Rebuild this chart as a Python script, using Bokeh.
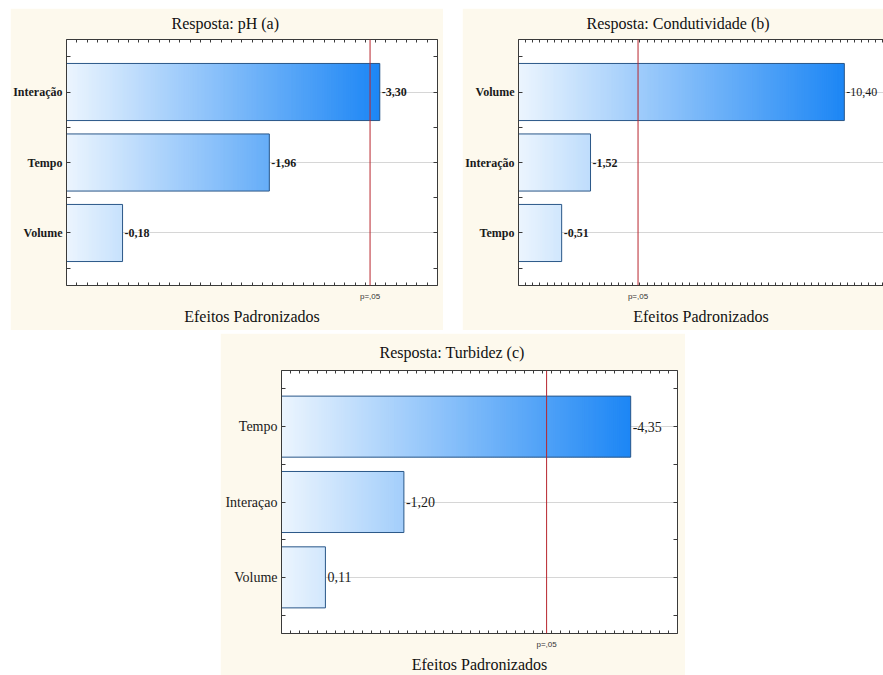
import numpy as np
from bokeh.plotting import figure
from bokeh.layouts import column, row, Spacer
from bokeh.models import (FixedTicker, CustomJSTickFormatter, LinearAxis, Span,
                          ColumnDataSource, Range1d)
from bokeh.embed import file_html
from bokeh.resources import INLINE
from bokeh.core.properties import value

# Standardized effects (Pareto charts), one set per response
ph_factors = ["Interação", "Tempo", "Volume"]
ph_effects = [-3.30, -1.96, -0.18]

cond_factors = ["Volume", "Interação", "Tempo"]
cond_effects = [-10.40, -1.52, -0.51]

turb_factors = ["Tempo", "Interaçao", "Volume"]
turb_effects = [-4.35, -1.20, 0.11]

titles = ["Resposta: pH (a)", "Resposta: Condutividade (b)", "Resposta: Turbidez (c)"]
x_title = "Efeitos Padronizados"
p_crit = 3.182          # t(0.025; 3 g.l.)
p_label = "p=,05"

SERIF = "'Liberation Serif'"
SANS = "'Liberation Sans'"
CREAM = "#fdf9ed"
LIGHT = np.array([236, 245, 254])
DARK = np.array([28, 134, 245])


def hexcol(c):
    return "#%02x%02x%02x" % tuple(int(round(v)) for v in c)


def pareto(title, factors, effects, x_start, x_end, step, width, height,
           borders, title_offset, title_standoff, right_axis, cat_style,
           cat_size, val_styles, val_size):
    left_b, right_b, top_b, bottom_b = borders
    p = figure(width=width, height=height, output_backend="svg",
               toolbar_location=None,
               x_range=Range1d(x_start, x_end), y_range=Range1d(0.255, 3.745),
               min_border_left=left_b, min_border_right=right_b,
               min_border_top=top_b, min_border_bottom=bottom_b,
               background_fill_color="white", border_fill_color=CREAM,
               outline_line_color=None)

    n = len(factors)
    ys = [n - i for i in range(n)]
    mags = [abs(e) for e in effects]
    texts = [("%.2f" % e).replace(".", ",") for e in effects]
    vmax = max(mags)

    # horizontal guide lines at each factor
    p.xgrid.visible = False
    p.ygrid.ticker = FixedTicker(ticks=ys)
    p.ygrid.grid_line_color = "#d6d6d6"
    p.ygrid.grid_line_width = 1

    # gradient-filled bars: thin slices from the axis start to each effect
    h = 0.81
    edges = np.linspace(x_start, vmax, 181)
    dw = edges[1] - edges[0]
    L, R, B, T, C = [], [], [], [], []
    for m, y in zip(mags, ys):
        for a in edges[:-1]:
            if a >= m:
                break
            frac = (a + dw / 2 - x_start) / (vmax - x_start)
            L.append(a)
            R.append(min(a + 1.8 * dw, m))
            B.append(y - h / 2)
            T.append(y + h / 2)
            C.append(hexcol(LIGHT + (DARK - LIGHT) * frac))
    p.quad(left=L, right=R, bottom=B, top=T, fill_color=C, line_color=None)

    bars = ColumnDataSource(dict(left=[x_start] * n, right=mags,
                                 bottom=[y - h / 2 for y in ys],
                                 top=[y + h / 2 for y in ys],
                                 y=ys, txt=texts, st=val_styles))
    p.quad(left="left", right="right", bottom="bottom", top="top", source=bars,
           fill_color=None, line_color="#2a5788", line_width=1)
    p.text(x="right", y="y", text="txt", source=bars, x_offset=2,
           text_align="left", text_baseline="middle",
           text_font=value(SERIF), text_font_size=val_size,
           text_font_style="st", text_color="#1a1a1a")

    p.add_layout(Span(location=p_crit, dimension="height",
                      line_color="#b8262e", line_width=1))

    # tick marks on all four sides of the frame, pointing inwards
    ticks_x = list(np.arange(x_start, x_end + 1e-9, step / 4))
    xt = FixedTicker(ticks=[p_crit], minor_ticks=ticks_x)
    xt2 = FixedTicker(ticks=[], minor_ticks=ticks_x)
    yt = FixedTicker(ticks=ys, minor_ticks=[0.5 + k for k in range(n + 1)])
    yt2 = FixedTicker(ticks=[], minor_ticks=[0.5 * k for k in range(1, 2 * n + 2)])

    frame_col = "#3a3a3a"

    xa = p.xaxis[0]
    xa.ticker = xt
    xa.formatter = CustomJSTickFormatter(args=dict(s=p_label), code="return s;")
    xa.major_tick_in = 0
    xa.major_tick_out = 0
    xa.minor_tick_in = 3
    xa.minor_tick_out = 0
    xa.axis_line_color = frame_col
    xa.minor_tick_line_color = frame_col
    xa.major_label_text_font = SANS
    xa.major_label_text_font_size = "8px"
    xa.major_label_text_color = "#333333"
    xa.major_label_standoff = 6
    xa.axis_label = x_title
    xa.axis_label_text_font = SERIF
    xa.axis_label_text_font_size = "16px"
    xa.axis_label_text_font_style = "normal"
    xa.axis_label_text_color = "#111111"
    xa.axis_label_standoff = 4

    names = list(reversed(factors))
    ya = p.yaxis[0]
    ya.ticker = yt
    ya.formatter = CustomJSTickFormatter(
        args=dict(names=names),
        code="return names[Math.round(tick) - 1];")
    ya.major_tick_in = 4
    ya.major_tick_out = 0
    ya.minor_tick_in = 4
    ya.minor_tick_out = 0
    ya.axis_line_color = frame_col
    ya.major_tick_line_color = frame_col
    ya.minor_tick_line_color = frame_col
    ya.major_label_text_font = SERIF
    ya.major_label_text_font_size = cat_size
    ya.major_label_text_font_style = cat_style
    ya.major_label_text_color = "#1a1a1a"
    ya.major_label_standoff = 4

    top = LinearAxis(ticker=xt2, major_label_standoff=0, major_tick_in=0,
                     major_tick_out=0, minor_tick_in=3, minor_tick_out=0,
                     axis_line_color=frame_col, minor_tick_line_color=frame_col)
    p.add_layout(top, "above")
    if right_axis:
        rgt = LinearAxis(ticker=yt2, major_label_standoff=0, major_tick_in=0,
                         major_tick_out=0, minor_tick_in=4, minor_tick_out=0,
                         axis_line_color=frame_col, minor_tick_line_color=frame_col)
        p.add_layout(rgt, "right")

    p.title.text = title
    p.title.align = "left"
    p.title.offset = title_offset
    p.title.vertical_align = "top"
    p.title.standoff = title_standoff
    p.title.text_font = SERIF
    p.title.text_font_size = "16px"
    p.title.text_font_style = "normal"
    p.title.text_color = "#111111"
    return p


p1 = pareto(titles[0], ph_factors, ph_effects, -0.5, 4.0, 0.5, 433, 322,
            (56, 6, 31, 45), 105, 12, True, "bold", "12px",
            ["bold"] * 3, "12px")
p2 = pareto(titles[1], cond_factors, cond_effects, -1.0, 11.77, 1.0, 421, 322,
            (56, 0, 31, 43), 68, 12, False, "bold", "12px",
            ["normal", "bold", "bold"], "12px")
p3 = pareto(titles[2], turb_factors, turb_effects, -0.5, 5.0, 0.5, 465, 342,
            (61, 8, 37, 42), 98, 16, True, "normal", "14px",
            ["normal"] * 3, "14px")

layout = column(
    Spacer(width=883, height=8),
    row(Spacer(width=10, height=322), p1, Spacer(width=19, height=322), p2),
    Spacer(width=883, height=3),
    row(Spacer(width=220, height=342), p3),
)

open("out.html", "w").write(file_html(layout, INLINE))
